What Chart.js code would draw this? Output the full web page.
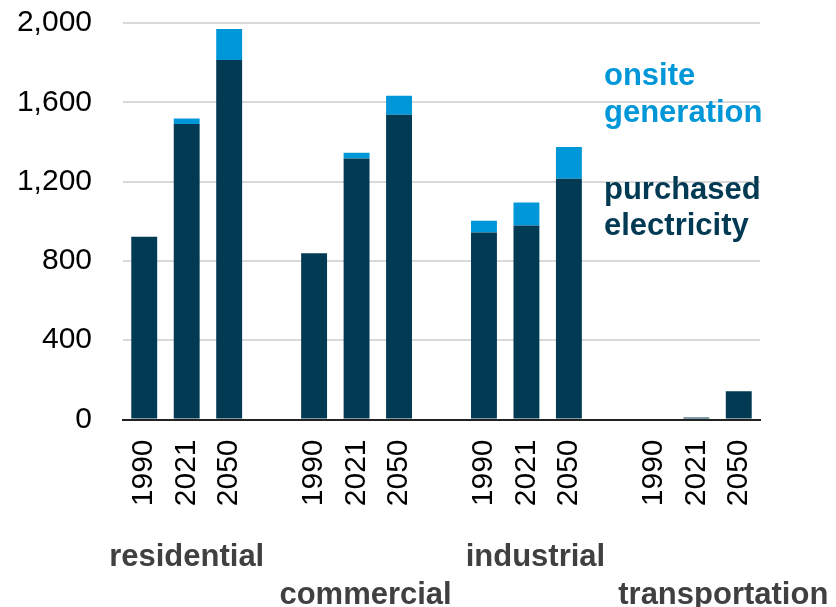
<!DOCTYPE html>
<html>
<head>
<meta charset="utf-8">
<script src="https://cdn.jsdelivr.net/npm/chart.js@4"></script>
<style>
  html, body { margin: 0; padding: 0; background: #fff; }
  #wrap { width: 836px; height: 607px; }
</style>
</head>
<body>
<div id="wrap"><canvas id="grafico"></canvas></div>
<script>
// ---- data ----
const anos = ["1990", "2021", "2050"];
const setores = ["residential", "commercial", "industrial", "transportation"];
const comprada = [
  [922, 1490, 1813],   // residential
  [838, 1316, 1537],   // commercial
  [943, 978, 1215],    // industrial
  [0, 10, 143]         // transportation
];
const geracaoLocal = [
  [0, 28, 157],
  [0, 29, 96],
  [59, 116, 159],
  [0, 0, 0]
];
const yTicks = [0, 400, 800, 1200, 1600, 2000];

const COR_ESCURA = "#023a54";
const COR_CLARA = "#0097d9";
const FONTE = "'Liberation Sans', Arial, sans-serif";

// flatten with an empty slot between sectors
const labels = [];
const dadosComprada = [];
const dadosLocal = [];
setores.forEach((s, i) => {
  anos.forEach((a, j) => {
    labels.push(a);
    dadosComprada.push(comprada[i][j]);
    dadosLocal.push(geracaoLocal[i][j]);
  });
  if (i < setores.length - 1) {
    labels.push("");
    dadosComprada.push(null);
    dadosLocal.push(null);
  }
});

// sector names under the years + inline legend text
const textosExtras = {
  id: "textosExtras",
  afterDraw(chart) {
    const { ctx, chartArea, scales } = chart;
    ctx.save();
    ctx.font = "bold 31px " + FONTE;
    ctx.fillStyle = "#404040";
    ctx.textAlign = "center";
    ctx.textBaseline = "alphabetic";
    const ajustes = [0, 9, 9, 27];
    setores.forEach((s, i) => {
      const x = scales.x.getPixelForValue(i * 4 + 1) + ajustes[i];
      const y = chartArea.bottom + (i % 2 === 0 ? 146 : 184);
      ctx.fillText(s, x, y);
    });

    ctx.textAlign = "left";
    const lx = chartArea.left + 481;
    ctx.fillStyle = COR_CLARA;
    ctx.fillText("onsite", lx, chartArea.top + 62);
    ctx.fillText("generation", lx, chartArea.top + 99);
    ctx.fillStyle = COR_ESCURA;
    ctx.fillText("purchased", lx, chartArea.top + 176);
    ctx.fillText("electricity", lx, chartArea.top + 212);
    ctx.restore();
  }
};

new Chart(document.getElementById("grafico"), {
  type: "bar",
  data: {
    labels,
    datasets: [
      {
        label: "purchased electricity",
        data: dadosComprada,
        backgroundColor: COR_ESCURA,
        barPercentage: 0.61,
        categoryPercentage: 1
      },
      {
        label: "onsite generation",
        data: dadosLocal,
        backgroundColor: COR_CLARA,
        barPercentage: 0.61,
        categoryPercentage: 1
      }
    ]
  },
  options: {
    responsive: true,
    maintainAspectRatio: false,
    animation: false,
    layout: { padding: { left: 0, right: 76, top: 23, bottom: 0 } },
    plugins: {
      legend: { display: false },
      tooltip: { enabled: false }
    },
    scales: {
      x: {
        stacked: true,
        grid: { display: false, drawTicks: false },
        border: { display: true, color: "#222", width: 2 },
        ticks: {
          color: "#000",
          font: { family: FONTE, size: 30 },
          minRotation: 90,
          maxRotation: 90,
          autoSkip: false,
          padding: 20
        },
        afterFit: s => { s.height = 187.5; }
      },
      y: {
        stacked: true,
        min: 0,
        max: 2000,
        afterBuildTicks: s => { s.ticks = yTicks.map(v => ({ value: v })); },
        grid: { color: "#d9d9d9", lineWidth: 2, drawTicks: false },
        border: { display: false },
        ticks: {
          color: "#000",
          font: { family: FONTE, size: 30 },
          padding: 31,
          callback: v => v.toLocaleString("en-US")
        },
        afterFit: s => {
          s.width = 123;
          s.paddingTop = 0;
          s.paddingBottom = 0;
        }
      }
    }
  },
  plugins: [textosExtras]
});
</script>
</body>
</html>
